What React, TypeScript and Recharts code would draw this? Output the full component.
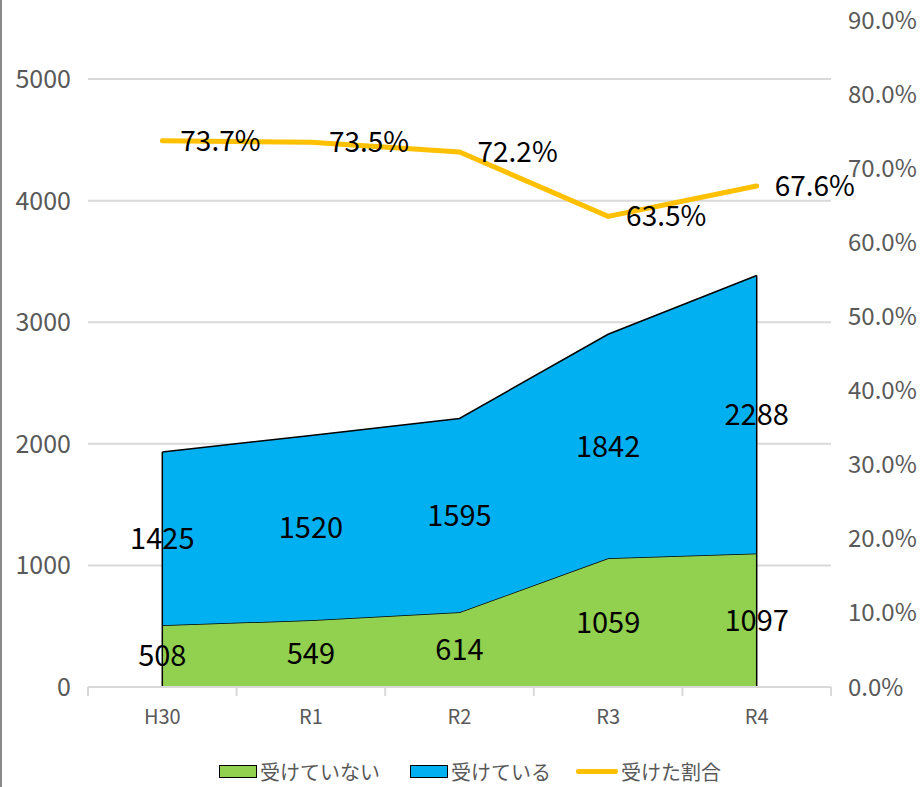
import React from 'react';
import {
  ComposedChart, Area, Line, XAxis, YAxis, CartesianGrid, Legend, LabelList, ReferenceLine,
} from 'recharts';

const categories = ['H30', 'R1', 'R2', 'R3', 'R4'];
const notReceived = [508, 549, 614, 1059, 1097];
const received = [1425, 1520, 1595, 1842, 2288];
const ratePct = [73.7, 73.5, 72.2, 63.5, 67.6];

const leftTicks = [0, 1000, 2000, 3000, 4000, 5000];
const rightTicks = [0, 0.1, 0.2, 0.3, 0.4, 0.5, 0.6, 0.7, 0.8, 0.9];
const xTicks = [-0.5, 0, 0.5, 1, 1.5, 2, 2.5, 3, 3.5, 4, 4.5];

const data = categories.map((c, i) => ({
  idx: i,
  cat: c,
  no: notReceived[i],
  yes: received[i],
  rate: ratePct[i] / 100,
  midNo: notReceived[i] / 2,
  midYes: notReceived[i] + received[i] / 2,
}));

const FONT = "'Noto Sans CJK JP', 'Noto Sans', sans-serif";
const GREEN = '#92D050';
const BLUE = '#00B0F0';
const GOLD = '#FFC000';
const AXIS_TEXT = '#595959';
const GRID = '#d9d9d9';

const XTick = (props: any) => {
  const { x, y, payload } = props;
  const v = payload.value;
  if (Number.isInteger(v)) {
    return (
      <text x={x} y={y + 37} textAnchor="middle" fill={AXIS_TEXT} fontSize={20} fontFamily={FONT}>
        {categories[v]}
      </text>
    );
  }
  return <line x1={x} x2={x} y1={y} y2={y + 9} stroke={GRID} strokeWidth={2} />;
};

const LegendContent = () => {
  const textStyle: React.CSSProperties = { fontSize: 20, color: AXIS_TEXT, fontFamily: FONT, marginLeft: 3 };
  const item: React.CSSProperties = { display: 'flex', alignItems: 'center' };
  return (
    <div style={{ display: 'flex', justifyContent: 'center', alignItems: 'center', paddingLeft: 20 }}>
      <div style={item}>
        <div style={{ width: 36, height: 11, background: GREEN, border: '1.5px solid #000' }} />
        <span style={textStyle}>受けていない</span>
      </div>
      <div style={{ ...item, marginLeft: 30 }}>
        <div style={{ width: 36, height: 11, background: BLUE, border: '1.5px solid #000' }} />
        <span style={textStyle}>受けている</span>
      </div>
      <div style={{ ...item, marginLeft: 25 }}>
        <div style={{ width: 42, height: 5, background: GOLD, borderRadius: 2 }} />
        <span style={textStyle}>受けた割合</span>
      </div>
    </div>
  );
};

const pctFmt = (v: any) => `${(Number(v) * 100).toFixed(1)}%`;

const gridGen = (props: any) => {
  const scale = props?.yAxis?.scale;
  if (scale && typeof scale === 'function') {
    return leftTicks.slice(1).map((t) => scale(t));
  }
  if (scale && typeof scale.map === 'function') {
    return leftTicks.slice(1).map((t) => scale.map(t));
  }
  return [];
};

export default function App() {
  const last = data.length - 1;
  return (
    <div style={{ position: 'absolute', left: 0, top: 0, width: 920, height: 787, background: '#fff' }}>
      <div style={{ position: 'absolute', left: 0, top: 0, width: 2, height: 787, background: '#8a8a8a' }} />
      <ComposedChart
        width={920}
        height={787}
        data={data}
        margin={{ top: 20, right: 0, bottom: 0, left: 0 }}
      >
        <CartesianGrid
          yAxisId="left"
          vertical={false}
          stroke={GRID}
          strokeWidth={2}
          horizontalCoordinatesGenerator={gridGen}
        />
        <XAxis
          dataKey="idx"
          type="number"
          domain={[-0.5, 4.5]}
          ticks={xTicks}
          interval={0}
          tick={<XTick />}
          tickLine={false}
          tickSize={0}
          tickMargin={0}
          axisLine={{ stroke: GRID, strokeWidth: 2 }}
          height={70}
        />
        <YAxis
          yAxisId="left"
          domain={[0, 5486]}
          ticks={leftTicks}
          interval={0}
          axisLine={false}
          tickLine={false}
          tickMargin={11}
          width={88}
          tick={{ fill: AXIS_TEXT, fontSize: 25, fontFamily: FONT }}
        />
        <YAxis
          yAxisId="right"
          orientation="right"
          domain={[0, 0.9]}
          ticks={rightTicks}
          interval={0}
          axisLine={false}
          tickLine={false}
          tickMargin={11}
          width={89}
          tickFormatter={pctFmt}
          tick={{ fill: AXIS_TEXT, fontSize: 24, fontFamily: FONT, textAnchor: 'start' }}
        />
        <Area
          yAxisId="left"
          dataKey="no"
          stackId="a"
          type="linear"
          fill={GREEN}
          fillOpacity={1}
          stroke="#000"
          strokeWidth={1.5}
          isAnimationActive={false}
          legendType="none"
        />
        <Area
          yAxisId="left"
          dataKey="yes"
          stackId="a"
          type="linear"
          fill={BLUE}
          fillOpacity={1}
          stroke="#000"
          strokeWidth={1.5}
          isAnimationActive={false}
          legendType="none"
        />
        <ReferenceLine
          yAxisId="left"
          ifOverflow="visible"
          segment={[{ x: 0, y: 0 }, { x: 0, y: data[0].no + data[0].yes }]}
          stroke="#000"
          strokeWidth={1.5}
        />
        <ReferenceLine
          yAxisId="left"
          ifOverflow="visible"
          segment={[{ x: last, y: 0 }, { x: last, y: data[last].no + data[last].yes }]}
          stroke="#000"
          strokeWidth={1.5}
        />
        <Line
          yAxisId="left"
          dataKey="midNo"
          stroke="none"
          dot={false}
          activeDot={false}
          legendType="none"
          isAnimationActive={false}
        >
          <LabelList dataKey="no" position="center" fill="#000" fontSize={29} fontFamily={FONT} />
        </Line>
        <Line
          yAxisId="left"
          dataKey="midYes"
          stroke="none"
          dot={false}
          activeDot={false}
          legendType="none"
          isAnimationActive={false}
        >
          <LabelList dataKey="yes" position="center" fill="#000" fontSize={29} fontFamily={FONT} />
        </Line>
        <Line
          yAxisId="right"
          dataKey="rate"
          type="linear"
          stroke={GOLD}
          strokeWidth={5}
          strokeLinecap="round"
          dot={false}
          activeDot={false}
          isAnimationActive={false}
          legendType="none"
        >
          <LabelList dataKey="rate" position="right" offset={18} formatter={pctFmt} fill="#000" fontSize={28} fontFamily={FONT} />
        </Line>
        <Legend verticalAlign="bottom" height={30} content={<LegendContent />} wrapperStyle={{ left: 0, width: 920 }} />
      </ComposedChart>
    </div>
  );
}
